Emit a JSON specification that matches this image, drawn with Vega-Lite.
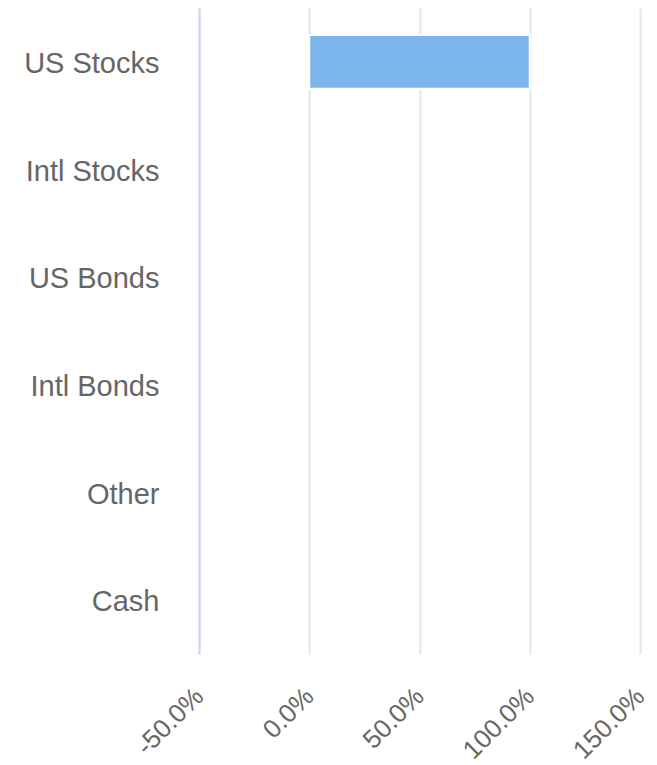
{
  "$schema": "https://vega.github.io/schema/vega-lite/v6.json",
  "width": 441,
  "height": 646,
  "autosize": {"type": "none"},
  "padding": {"left": 199, "top": 8, "right": 17, "bottom": 111},
  "background": "white",
  "config": {"view": {"stroke": null}, "font": "Liberation Sans"},
  "data": {
    "values": [
      {"asset": "US Stocks", "pct": 1.0},
      {"asset": "Intl Stocks", "pct": 0},
      {"asset": "US Bonds", "pct": 0},
      {"asset": "Intl Bonds", "pct": 0},
      {"asset": "Other", "pct": 0},
      {"asset": "Cash", "pct": 0}
    ]
  },
  "mark": {"type": "bar", "color": "#7cb5ec", "stroke": "white", "strokeWidth": 2},
  "encoding": {
    "strokeOpacity": {"condition": {"test": "datum.pct == 0", "value": 0}, "value": 1},
    "y": {
      "field": "asset",
      "type": "nominal",
      "sort": null,
      "scale": {"paddingInner": 0.5, "paddingOuter": 0.25},
      "axis": {
        "title": null,
        "ticks": false,
        "labelPadding": 40,
        "labelFontSize": 29,
        "labelOffset": 2,
        "labelColor": "#666666",
        "domainColor": "#ccd6eb",
        "domainWidth": 2,
        "grid": false
      }
    },
    "x": {
      "field": "pct",
      "type": "quantitative",
      "scale": {"domain": [-0.5, 1.5], "nice": false, "zero": false},
      "axis": {
        "title": null,
        "values": [-0.5, 0, 0.5, 1, 1.5],
        "labelExpr": "replace(format(datum.value, '.1%'), '\u2212', '-')",
        "labelAngle": -45,
        "labelAlign": "right",
        "labelBaseline": "middle",
        "labelFontSize": 26,
        "labelColor": "#666666",
        "labelPadding": 38,
        "ticks": false,
        "domain": false,
        "grid": true,
        "gridColor": "#e6e6e6",
        "gridWidth": 2
      }
    }
  }
}
